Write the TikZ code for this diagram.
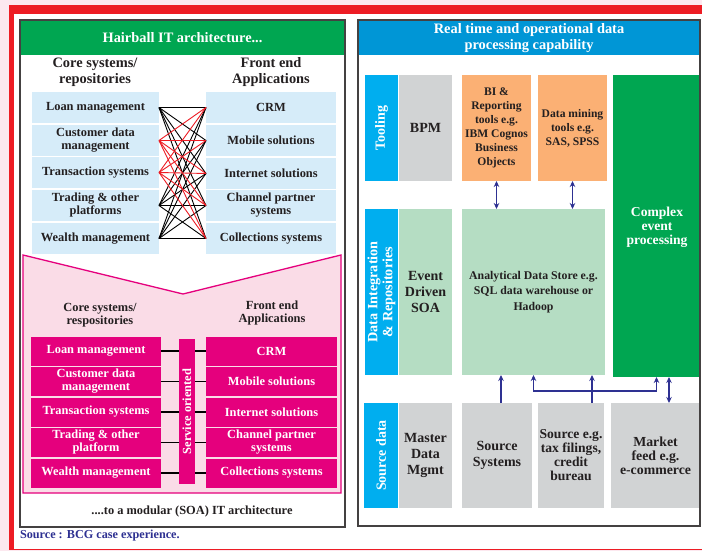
\documentclass[tikz,border=0pt]{standalone}
\usepackage{fontspec}
\setmainfont{Liberation Serif}
\usepackage{tikz}
\usetikzlibrary{arrows.meta}

\definecolor{bgpink}{HTML}{FCE8EF}
\definecolor{hbred}{HTML}{ED1C24}
\definecolor{hbgreen}{HTML}{00A651}
\definecolor{hbblue}{HTML}{D6ECF9}
\definecolor{soamag}{HTML}{E5007D}
\definecolor{soapink}{HTML}{FADCE7}
\definecolor{rtblue}{HTML}{0096D6}
\definecolor{rtcyan}{HTML}{00AEEF}
\definecolor{rtgrey}{HTML}{D1D3D4}
\definecolor{rtorange}{HTML}{FBB074}
\definecolor{rtmint}{HTML}{B5DDC3}
\definecolor{arrblue}{HTML}{2E3192}
\definecolor{inkdark}{HTML}{231F20}

\newcommand{\hbtitle}{\fontsize{14.4}{16}\selectfont\bfseries}
\newcommand{\hbbox}{\fontsize{12.4}{13}\selectfont\bfseries}
\newcommand{\rtbig}{\fontsize{14}{16}\selectfont\bfseries}
\newcommand{\rtsmall}{\fontsize{11.6}{14}\selectfont\bfseries}

\tikzset{
  blk/.style={inner sep=0pt, outer sep=0pt, align=center},
  oldbox/.style={blk, fill=hbblue, text=inkdark, font=\hbbox, minimum height=31pt},
  soabox/.style={blk, fill=soamag, text=white, font=\hbbox, minimum height=29pt},
  heading/.style={blk, text=inkdark, font=\hbtitle},
  panel/.style={draw=inkdark!85, line width=1.5pt},
  sidebar/.style={blk, fill=rtcyan, text=white, font=\rtbig, rotate=90, minimum height=33pt},
  layer/.style={blk, text=inkdark, font=\rtbig},
  link/.style={black, line width=1.1pt},
  flow/.style={arrblue, line width=1.2pt, >={Stealth[length=6pt,width=5.5pt]}}
}

\begin{document}
\begin{tikzpicture}[x=1pt,y=-1pt]
\useasboundingbox (0,0) rectangle (702,551);
\fill[bgpink] (0,0) rectangle (702,551);
\fill[white] (14,14) rectangle (702,549);
\fill[hbred] (9,5) rectangle (702,14);
\fill[hbred] (9,5) rectangle (14,550);
\draw[hbred, line width=1pt] (9,549.5) -- (702,549.5);

% hairball
\node[blk, fill=hbgreen, text=white, font=\hbtitle, minimum width=324pt, minimum height=35pt] (hbhead) at (182.5,38) {Hairball IT architecture...};
\node[heading] (corehd) at (95,72.5) {Core systems/\\repositories};
\node[heading] (fronthd) at (271,72.5) {Front end\\Applications};

\node[oldbox, minimum width=127pt] (l1) at (95.5,107.5) {Loan management};
\node[oldbox, minimum width=127pt] (l2) at (95.5,140.5) {Customer data\\management};
\node[oldbox, minimum width=127pt] (l3) at (95.5,172.5) {Transaction systems};
\node[oldbox, minimum width=127pt] (l4) at (95.5,205.5) {Trading \& other\\platforms};
\node[oldbox, minimum width=127pt] (l5) at (95.5,238.5) {Wealth management};
\node[oldbox, minimum width=130pt] (r1) at (271,107.5) {CRM};
\node[oldbox, minimum width=130pt] (r2) at (271,140.5) {Mobile solutions};
\node[oldbox, minimum width=130pt] (r3) at (271,173.5) {Internet solutions};
\node[oldbox, minimum width=130pt] (r4) at (271,205.5) {Channel partner\\systems};
\node[oldbox, minimum width=130pt] (r5) at (271,238.5) {Collections systems};

\foreach \i/\c in {1/black,4/black,5/black,2/hbred,3/hbred}
  \foreach \j in {1,...,5}
    \draw[\c, line width=0.9pt] (l\i.east) -- (r\j.west);

% modular SOA
\draw[soamag, fill=soapink, line width=1.3pt] (23,255) -- (183,294) -- (341,255) -- (341,493) -- (23,493) -- cycle;
\node[blk, text=inkdark, font=\hbbox] (corehd2) at (100,315) {Core systems/\\respositories};
\node[blk, text=inkdark, font=\hbbox] (fronthd2) at (272,313) {Front end\\Applications};

\node[soabox, minimum width=130pt] (ml1) at (96,351) {Loan management};
\node[soabox, minimum width=130pt] (ml2) at (96,381.5) {Customer data\\management};
\node[soabox, minimum width=130pt] (ml3) at (96,412) {Transaction systems};
\node[soabox, minimum width=130pt] (ml4) at (96,442.5) {Trading \& other\\platform};
\node[soabox, minimum width=130pt] (ml5) at (96,473) {Wealth management};
\node[soabox, minimum width=131pt] (mr1) at (271.5,351) {CRM};
\node[soabox, minimum width=131pt] (mr2) at (271.5,381.5) {Mobile solutions};
\node[soabox, minimum width=131pt] (mr3) at (271.5,412) {Internet solutions};
\node[soabox, minimum width=131pt] (mr4) at (271.5,442.5) {Channel partner\\systems};
\node[soabox, minimum width=131pt] (mr5) at (271.5,473) {Collections systems};

\node[soabox, rotate=90, minimum width=145pt, minimum height=16pt] (soa) at (187,411.5) {Service oriented};

\foreach \i in {1,...,5} {
  \draw[link] (ml\i.east) -- (ml\i.east -| soa.north);
  \draw[link] (mr\i.west) -- (mr\i.west -| soa.south);
}

\node[blk, text=inkdark, font=\hbbox] (soanote) at (192,512) {....to a modular (SOA) IT architecture};
\draw[panel] (20,20) rectangle (345,527);
\node[blk, anchor=west, text=arrblue, font=\fontsize{12.2}{13}\selectfont\bfseries] (source) at (20,535.5) {Source : BCG case experience.};

% real time processing
\node[blk, fill=rtblue, text=white, font=\hbtitle, minimum width=342pt, minimum height=35pt] (rthead) at (529,38) {Real time and operational data\\processing capability};

\node[sidebar, minimum width=106pt] (tool) at (381.5,128) {Tooling};
\node[layer, fill=rtgrey, minimum width=53pt, minimum height=106pt] (bpm) at (425.5,128) {BPM};
\node[layer, fill=rtorange, font=\rtsmall, minimum width=69pt, minimum height=106pt] (bi) at (496.5,128) {BI \&\\Reporting\\tools e.g.\\IBM Cognos\\Business\\Objects};
\node[layer, fill=rtorange, font=\rtsmall, minimum width=69pt, minimum height=106pt] (dm) at (572.5,128) {Data mining\\tools e.g.\\SAS, SPSS};
\node[blk, fill=hbgreen, minimum width=87pt, minimum height=302pt] (cep) at (656.5,226) {};
\node[blk, text=white, font=\fontsize{13.6}{14}\selectfont\bfseries] (ceptxt) at (657,227) {Complex\\event\\processing};

\node[sidebar, minimum width=166pt, font=\fontsize{14.2}{15}\selectfont\bfseries] (dir) at (381.5,292) {Data Integration\\\& Repositories};
\node[layer, fill=rtmint, minimum width=53pt, minimum height=166pt] (eds) at (425.5,292) {Event\\Driven\\SOA};
\node[layer, fill=rtmint, font=\fontsize{11.8}{15.5}\selectfont\bfseries, minimum width=143pt, minimum height=166pt] (ads) at (533.5,292) {Analytical Data Store e.g.\\SQL data warehouse or\\Hadoop};

\node[sidebar, minimum width=105pt, minimum height=34pt] (src) at (381,455.5) {Source data};
\node[layer, fill=rtgrey, minimum width=53pt, minimum height=105pt] (mdm) at (425.5,455.5) {Master\\Data\\Mgmt};
\node[layer, fill=rtgrey, minimum width=70pt, minimum height=105pt] (ss) at (497,455.5) {Source\\Systems};
\node[layer, fill=rtgrey, font=\fontsize{13.6}{14}\selectfont\bfseries, minimum width=66pt, minimum height=105pt] (tax) at (571,455.5) {Source e.g.\\tax filings,\\credit\\bureau};
\node[layer, fill=rtgrey, font=\fontsize{13.8}{14}\selectfont\bfseries, minimum width=89pt, minimum height=105pt] (mf) at (655.5,455.5) {Market\\feed e.g.\\e-commerce};

\draw[flow, <->] (bi.south) -- (bi.south |- ads.north);
\draw[flow, <->] (dm.south) -- (dm.south |- ads.north);
\draw[flow, ->] ([xshift=4pt]ss.north) -- ([xshift=4pt]ss.north |- ads.south);
\draw[flow, ->] ([xshift=21pt]tax.north) -- ([xshift=21pt]tax.north |- ads.south);
\draw[flow, <->] (ads.south) -- ++(0,16) -| (cep.south);
\coordinate (feedup) at ([xshift=12.5pt]cep.south);
\draw[flow, <->] (feedup) -- (feedup |- mf.north);

\draw[panel] (358,20) rectangle (700,526);
\end{tikzpicture}
\end{document}
